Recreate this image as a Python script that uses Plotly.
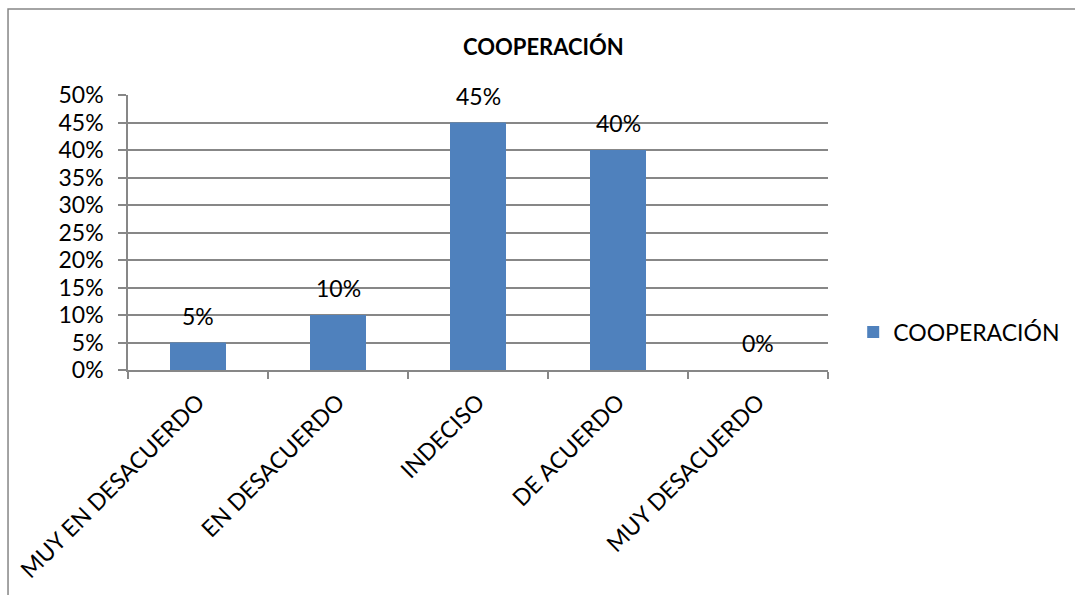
import plotly.graph_objects as go

categories = ["MUY EN DESACUERDO", "EN DESACUERDO", "INDECISO", "DE ACUERDO", "MUY DESACUERDO"]
values = [0.05, 0.10, 0.45, 0.40, 0.00]
series_name = "COOPERACIÓN"
chart_title = "COOPERACIÓN"

FONT = "Lato, sans-serif"
FS = 23
BAR_COLOR = "#4F81BD"
GRID = "#878787"

fig = go.Figure()
fig.add_trace(go.Bar(
    x=categories,
    y=values,
    name=series_name,
    marker=dict(color=BAR_COLOR, line=dict(width=0)),
    showlegend=True,
))

# value labels above each bar
for cat, val in zip(categories, values):
    fig.add_annotation(
        x=cat, y=val, xref="x", yref="y",
        text=f"{val:.0%}", showarrow=False,
        yanchor="middle", yshift=27,
        font=dict(family=FONT, size=FS, color="#000000"),
    )

# chart title
fig.add_annotation(
    x=0.594, y=1.178, xref="paper", yref="paper",
    text=f"<b>{chart_title}</b>", showarrow=False,
    xanchor="center", yanchor="middle",
    font=dict(family=FONT, size=22, color="#000000"),
)

# outer chart border
fig.add_shape(
    type="rect", xref="paper", yref="paper",
    x0=-0.1714, x1=1.6, y0=-1.0, y1=1.3127,
    line=dict(color="#868686", width=1.5), fillcolor="rgba(0,0,0,0)",
    layer="below",
)

fig.update_layout(
    width=1075, height=595,
    margin=dict(l=128, r=247, t=95, b=225, pad=0, autoexpand=False),
    paper_bgcolor="white", plot_bgcolor="white",
    bargap=0.6,
    font=dict(family=FONT, size=FS, color="#000000"),
    legend=dict(
        x=1.036, y=0.138, xanchor="left", yanchor="middle",
        font=dict(family=FONT, size=FS, color="#000000"),
        bgcolor="rgba(0,0,0,0)",
    ),
    xaxis=dict(
        type="category", automargin=False,
        showline=True, linecolor=GRID, linewidth=1.5,
        ticks="outside", ticklen=7, tickcolor=GRID, tickwidth=1.5,
        tickson="boundaries", tickangle=-45, ticklabelstandoff=8,
        showgrid=False,
        tickfont=dict(family=FONT, size=FS, color="#000000"),
    ),
    yaxis=dict(
        range=[0, 0.5], dtick=0.05, tickformat=".0%", automargin=False,
        showline=True, linecolor=GRID, linewidth=1.5,
        ticks="outside", ticklen=8, tickcolor=GRID, tickwidth=1.5,
        ticklabelstandoff=10,
        showgrid=True, gridcolor=GRID, gridwidth=1.5,
        zeroline=False,
        tickfont=dict(family=FONT, size=FS, color="#000000"),
    ),
)

fig.write_html("out.html")
